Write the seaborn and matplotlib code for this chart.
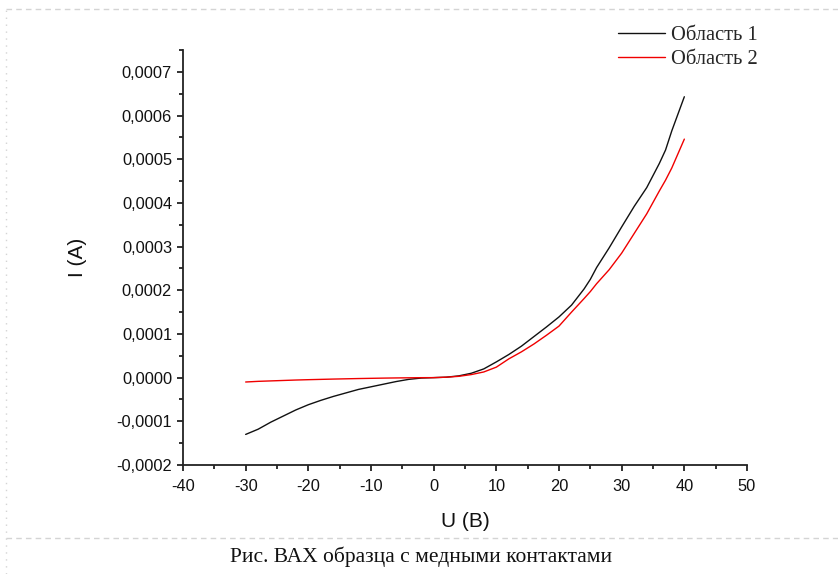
import numpy as np
import pandas as pd
import matplotlib
matplotlib.use("Agg")
import matplotlib.pyplot as plt
from matplotlib.ticker import MultipleLocator, FuncFormatter
from matplotlib.lines import Line2D
import seaborn as sns

# Voltage sweep, V
voltage = [-30, -28, -26, -24, -22, -20, -18, -16, -14, -12, -10, -8, -6, -4, -2,
           0, 2, 4, 6, 8, 10, 12, 14, 16, 18, 20, 22, 24, 25, 26, 28, 30, 32, 34,
           36, 37, 38, 40]

# Current, A — region 1
current_1 = [-0.000130, -0.000118, -0.000102, -0.000088, -0.000074, -0.000062,
             -0.000052, -0.000043, -0.000035, -0.000027, -0.000021, -0.000015,
             -0.000009, -0.000004, -0.000001, 0.0, 0.000001, 0.000004, 0.000010,
             0.000020, 0.000036, 0.000053, 0.000072, 0.000094, 0.000116,
             0.000139, 0.000166, 0.000203, 0.000225, 0.000252, 0.000297,
             0.000345, 0.000392, 0.000435, 0.000490, 0.000521, 0.000565,
             0.000643]

# Current, A — region 2
current_2 = [-0.0000100, -0.0000085, -0.0000075, -0.0000065, -0.0000055,
             -0.0000047, -0.0000040, -0.0000033, -0.0000027, -0.0000021,
             -0.0000016, -0.0000011, -0.0000007, -0.0000004, -0.0000001, 0.0,
             0.000001, 0.000003, 0.000007, 0.000013, 0.000024, 0.000043,
             0.000059, 0.000077, 0.000097, 0.000118, 0.000150, 0.000181,
             0.000197, 0.000215, 0.000247, 0.000285, 0.000330, 0.000375,
             0.000427, 0.000452, 0.000480, 0.000546]

series_names = ["Область 1", "Область 2"]
series_colors = ["#111111", "#f00000"]

df = pd.DataFrame({
    "U": voltage * 2,
    "I": current_1 + current_2,
    "region": [series_names[0]] * len(voltage) + [series_names[1]] * len(voltage),
})

sns.set_style("ticks")
plt.rcParams["font.family"] = ["Liberation Sans", "DejaVu Sans"]

W, H = 838, 574
fig = plt.figure(figsize=(W / 100, H / 100), dpi=100)
ax = fig.add_axes([183 / W, 1 - 465 / H, (747 - 183) / W, (465 - 50) / H])

sns.lineplot(data=df, x="U", y="I", hue="region", palette=series_colors,
             hue_order=series_names, linewidth=1.0, ax=ax, legend=False,
             estimator=None, sort=False)

ax.set_xlim(-40, 50)
ax.set_ylim(-0.0002, 0.00075)
ax.xaxis.set_major_locator(MultipleLocator(10))
ax.xaxis.set_minor_locator(MultipleLocator(5))
ax.yaxis.set_major_locator(MultipleLocator(0.0001))
ax.yaxis.set_minor_locator(MultipleLocator(0.00005))
ax.yaxis.set_major_formatter(
    FuncFormatter(lambda v, p: f"{v:.4f}".replace(".", ",").replace("-0,0000", "0,0000")))
ax.xaxis.set_major_formatter(FuncFormatter(lambda v, p: f"{v:.0f}"))

sns.despine(ax=ax)
for s in ("left", "bottom"):
    ax.spines[s].set_linewidth(1.3)
    ax.spines[s].set_color("#222222")
ax.tick_params(which="major", direction="out", length=4.3, width=1.3,
               color="#222222", labelsize=11.8, labelcolor="#111111", pad=3.6)
ax.tick_params(axis="x", which="major", pad=5.8)
ax.tick_params(which="minor", direction="out", length=2.8, width=1.3,
               color="#222222")

ax.set_xlabel("U (B)", fontsize=15, color="#111111", labelpad=13)
ax.set_ylabel("I (A)", fontsize=15, color="#111111", labelpad=21)

handles = [Line2D([], [], color=c, linewidth=1.0) for c in series_colors]
fig.legend(handles, series_names, loc="upper left",
           bbox_to_anchor=(618 / W, 1 - 26 / H), frameon=False,
           prop={"family": "Liberation Serif", "size": 14.8},
           handlelength=2.3, handletextpad=0.3, labelspacing=0.22,
           borderpad=0, borderaxespad=0)

fig.text(421 / W, 1 - 557 / H, "Рис. ВАХ образца с медными контактами",
         ha="center", va="center", family="Liberation Serif", fontsize=15.5,
         color="#111111")

# page frame
frame = dict(color="#d4d4d4", linewidth=1.0, linestyle=(0, (4, 3)))
fig.add_artist(Line2D([6 / W, 1], [1 - 9 / H, 1 - 9 / H], **frame))
fig.add_artist(Line2D([6 / W, 1], [1 - 538 / H, 1 - 538 / H], **frame))
fig.add_artist(Line2D([6 / W, 6 / W], [0, 1 - 9 / H], color="#d4d4d4",
                      linewidth=1.0, linestyle=(0, (1, 4))))

fig.savefig("out.png", dpi=100, facecolor="white")
